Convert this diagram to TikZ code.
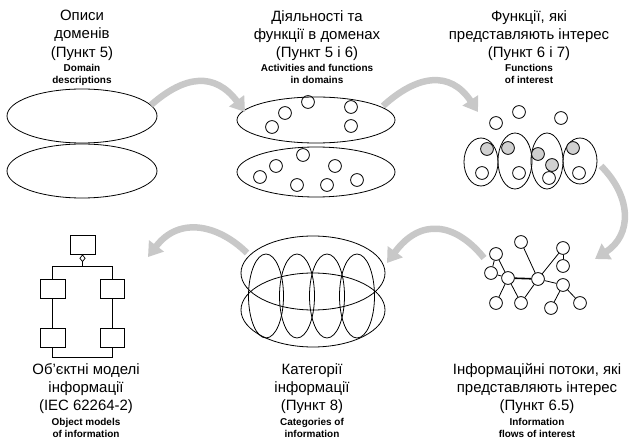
\documentclass[tikz,border=0pt]{standalone}
\usepackage{fontspec}
\setmainfont{Liberation Sans}
\usetikzlibrary{arrows.meta,shapes.geometric}
\definecolor{agray}{RGB}{200,200,200}
\definecolor{cgray}{RGB}{208,208,208}
\begin{document}
\begin{tikzpicture}[x=1bp,y=-1bp,
  bigtxt/.style={align=center, inner sep=0pt, anchor=north, font=\fontsize{15}{18.3}\selectfont},
  smalltxt/.style={align=center, inner sep=0pt, anchor=north, font=\fontsize{10}{12}\selectfont\bfseries},
  shapeline/.style={line width=0.8bp},
  flow/.style={draw=agray, line width=6.5bp, -{Triangle[width=18bp,length=14bp]}},
  dot/.style={circle, draw, line width=0.8bp, minimum size=12.8bp, inner sep=0pt},
  wdot/.style={dot, fill=white},
  gdot/.style={dot, fill=cgray},
  obox/.style={draw, line width=0.8bp, fill=white, minimum width=25bp, minimum height=19bp, inner sep=0pt},
]
\useasboundingbox (0,0) rectangle (640,441);

% ---------- labels, top row ----------
\node[bigtxt] (t1) at (82,10) {Описи\\доменів\\(Пункт 5)};
\node[smalltxt] (s1) at (82,64.5) {Domain\\descriptions};
\node[bigtxt] (t2) at (317,10) {Діяльності та\\функції в доменах\\(Пункт 5 і 6)};
\node[smalltxt] (s2) at (317,64.5) {Activities and functions\\in domains};
\node[bigtxt] (t3) at (529,10) {Функції, які\\представляють інтерес\\(Пункт 6 і 7)};
\node[smalltxt] (s3) at (529,64.5) {Functions\\of interest};

% ---------- labels, bottom row ----------
\node[bigtxt] (t4) at (537,363) {Інформаційні потоки, які\\представляють інтерес\\(Пункт 6.5)};
\node[smalltxt] (s4) at (537,418) {Information\\flows of interest};
\node[bigtxt] (t5) at (312,363) {Категорії\\інформації\\(Пункт 8)};
\node[smalltxt] (s5) at (312,418) {Categories of\\information};
\node[bigtxt] (t6) at (86,363) {Об’єктні моделі\\інформації\\(IEC 62264-2)};
\node[smalltxt] (s6) at (86,418) {Object models\\of information};

% ---------- 1: domain descriptions ----------
\draw[shapeline] (82,116) ellipse [x radius=75, y radius=27];
\draw[shapeline] (82,171) ellipse [x radius=75, y radius=27];

% ---------- 2: activities and functions ----------
\draw[shapeline] (316,120) ellipse [x radius=79, y radius=23];
\draw[shapeline] (316,172) ellipse [x radius=79, y radius=25];
\foreach \p in {(308,102),(285,113),(272,127),(351,107),(351,126),
                (303,155),(276,166),(260,177),(297,185),(335,166),(327,185),(357,180)}
  \node[dot] at \p {};

% ---------- 3: functions of interest ----------
\draw[shapeline] (481,162) ellipse [x radius=17, y radius=24];
\draw[shapeline] (515,161) ellipse [x radius=17, y radius=28];
\draw[shapeline] (547,161) ellipse [x radius=16, y radius=28];
\draw[shapeline] (580,161) ellipse [x radius=17, y radius=23];
\foreach \p in {(487,149),(508,148),(538,154),(552,165),(573,148)}
  \node[gdot] at \p {};
\foreach \p in {(482,173),(519,173),(549,178),(579,173),(496,123),(519,112),(561,118)}
  \node[dot] at \p {};

% ---------- 4: information flows ----------
\node[wdot] (na) at (521,242) {};
\node[wdot] (nb) at (496,254) {};
\node[wdot] (nc) at (491,273) {};
\node[wdot] (nd) at (508,278) {};
\node[wdot] (ne) at (538,279) {};
\node[wdot] (nf) at (563,248) {};
\node[wdot] (ng) at (563,266) {};
\node[wdot] (nh) at (563,285) {};
\node[wdot] (ni) at (496,303) {};
\node[wdot] (nj) at (521,303) {};
\node[wdot] (nk) at (551,308) {};
\node[wdot] (nl) at (580,303) {};
\begin{scope}[shapeline]
\draw (nb) -- (nc);
\draw (nb) -- (nd);
\draw (nc) -- (nd);
\draw[line width=1.6bp] (nd) -- (ne);
\draw (nd) -- (ni);
\draw (nd) -- (nj);
\draw (ne) -- (nj);
\draw (na) -- (ne);
\draw (ne) -- (nf);
\draw (nf) -- (ng);
\draw (ne) -- (nh);
\draw (nh) -- (nk);
\draw (nh) -- (nl);
\end{scope}

% ---------- 5: categories ----------
\draw[shapeline] (313,273) ellipse [x radius=72, y radius=37];
\draw[shapeline] (313,310) ellipse [x radius=72, y radius=37];
\foreach \cx in {266,297,327,357}
  \draw[shapeline] (\cx,296) ellipse [x radius=17.5, y radius=42];

% ---------- 6: object model ----------
\node[obox] (ob0) at (82.5,244.5) {};
\node[draw, diamond, line width=0.7bp, fill=white, minimum width=5.5bp, minimum height=7bp, inner sep=0pt, anchor=north] (dia) at (ob0.south) {};
\node[obox] (ob1) at (52.5,288.5) {};
\node[obox] (ob2) at (52.5,337.5) {};
\node[obox, minimum width=24bp] (ob3) at (112,288.5) {};
\node[obox, minimum width=24bp] (ob4) at (112,337.5) {};
\coordinate (bj) at (82.5,267);
\begin{scope}[shapeline]
\draw (dia.south) -- (bj);
\draw (ob1.north) -- ++(0,-12) -| (ob3.north);
\draw (ob1.south) -- (ob2.north);
\draw (ob3.south) -- (ob4.north);
\draw (ob2.south) -- ++(0,10) -| (ob4.south);
\end{scope}

% ---------- flow arrows ----------
\coordinate (a1s) at (151,105); \coordinate (a1e) at (245,112);
\coordinate (a2s) at (383,106); \coordinate (a2e) at (478,112);
\coordinate (a3s) at (601,166); \coordinate (a3e) at (595,259);
\coordinate (a4s) at (484,258); \coordinate (a4e) at (387,263);
\coordinate (a5s) at (247,253); \coordinate (a5e) at (148,257);
\draw[flow] (a1s) .. controls (185,75) and (215,72) .. (a1e);
\draw[flow] (a2s) .. controls (417,75) and (450,70) .. (a2e);
\draw[flow] (a3s) .. controls (632,197) and (632,235) .. (a3e);
\draw[flow] (a4s) .. controls (455,222) and (420,218) .. (a4e);
\draw[flow] (a5s) .. controls (220,226) and (180,215) .. (a5e);
\end{tikzpicture}
\end{document}
